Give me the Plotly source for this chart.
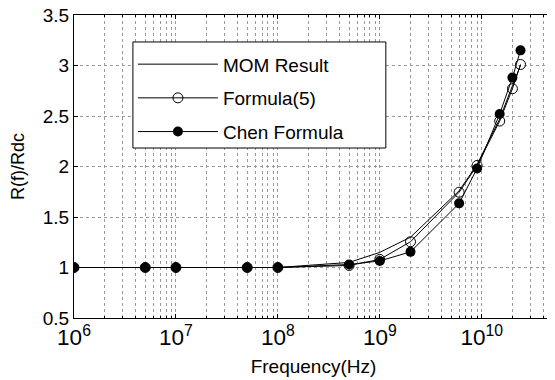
import plotly.graph_objects as go

freq = [1e6, 5e6, 1e7, 5e7, 1e8, 5e8, 1e9, 2e9, 6e9, 9e9, 1.5e10, 2e10, 2.4e10]
mom = [1.0, 1.0, 1.0, 1.0, 1.0, 1.05, 1.15, 1.30, 1.76, 2.02, 2.47, 2.80, 3.00]
formula5 = [1.0, 1.0, 1.0, 1.0, 1.0, 1.02, 1.08, 1.255, 1.745, 2.01, 2.45, 2.77, 3.01]
chen = [1.0, 1.0, 1.0, 1.0, 1.0, 1.03, 1.065, 1.155, 1.635, 1.98, 2.52, 2.88, 3.15]

fig = go.Figure()
fig.add_trace(go.Scatter(x=freq, y=mom, mode="lines", name="MOM Result", legendgroup="a",
                         line=dict(color="black", width=1)))
fig.add_trace(go.Scatter(x=freq, y=formula5, mode="lines+markers", name="Formula(5)", legendgroup="b",
                         line=dict(color="black", width=1),
                         marker=dict(symbol="circle-open", size=10, color="black",
                                     line=dict(width=1))))
fig.add_trace(go.Scatter(x=freq, y=chen, mode="lines+markers", name="Chen Formula", legendgroup="c",
                         line=dict(color="black", width=1),
                         marker=dict(symbol="circle", size=10, color="black")))

# legend frame (wider than plotly's auto-sized box, as in the reference)
fig.add_shape(type="rect", xref="paper", yref="paper",
              x0=0.123, x1=0.651, y0=0.561, y1=0.911,
              line=dict(color="black", width=1), fillcolor="white", layer="above")

grid = dict(gridcolor="#9a9a9a", griddash="dot", gridwidth=1)
fig.update_layout(
    width=555, height=380,
    margin=dict(l=66, r=10, t=7, b=70),
    paper_bgcolor="white", plot_bgcolor="white",
    font=dict(family="Liberation Sans, Arial, sans-serif", color="black", size=18),
    showlegend=True,
    legend=dict(x=0.123, y=0.900, xanchor="left", yanchor="top",
                borderwidth=0, bgcolor="rgba(0,0,0,0)",
                font=dict(size=19), itemwidth=80, tracegroupgap=6),
    xaxis=dict(type="log", range=[6, 10.699], dtick=1, exponentformat="power",
               showline=True, linecolor="black", linewidth=1, mirror="allticks",
               ticks="inside", ticklen=4, tickcolor="black",
               showgrid=True, **grid, automargin=False, ticklabeloverflow="allow",
               minor=dict(dtick="D1", showgrid=True, ticks="inside", ticklen=2,
                          tickcolor="black", gridcolor="#9a9a9a", griddash="dot"),
               tickfont=dict(size=18),
               title=dict(text="Frequency(Hz)", font=dict(size=19), standoff=10),
               zeroline=False),
    yaxis=dict(range=[0.5, 3.5], dtick=0.5,
               showline=True, linecolor="black", linewidth=1, mirror="allticks",
               ticks="inside", ticklen=4, tickcolor="black",
               showgrid=True, **grid, automargin=False, ticklabeloverflow="allow",
               tickfont=dict(size=19),
               title=dict(text="R(f)/Rdc", font=dict(size=18), standoff=17),
               zeroline=False),
)
fig.write_html("out.html")
